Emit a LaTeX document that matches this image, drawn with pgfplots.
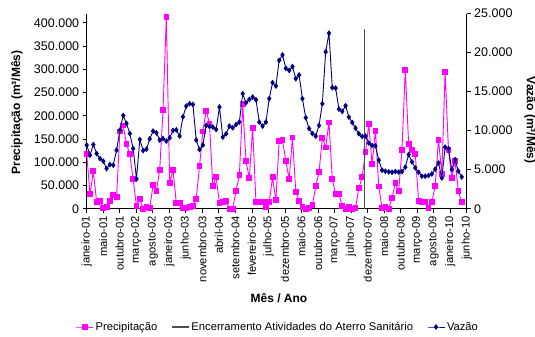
\documentclass[border=0pt]{standalone}
\usepackage{pgfplots}
\pgfplotsset{compat=1.18}
\usepackage{fontspec}
\setmainfont{Liberation Sans}
\definecolor{pinkc}{RGB}{255,0,255}
\definecolor{navyc}{RGB}{0,0,128}
\definecolor{linec}{RGB}{80,80,80}
\newcommand{\tickfont}{\fontsize{12.5bp}{14bp}\selectfont}
\newcommand{\xtfont}{\fontsize{11.2bp}{12bp}\selectfont}
\newcommand{\labfont}{\fontsize{12bp}{13bp}\selectfont\bfseries}
\begin{document}
\begin{tikzpicture}[x=1bp,y=1bp]
\path[use as bounding box] (-86.7,-127.3) rectangle (448.3,208.7);
\begin{axis}[
 at={(0,0)}, anchor=south west,
 scale only axis, width=380bp, height=195.2bp,
 xmin=0, xmax=114.5, ymin=0, ymax=420000,
 axis x line*=bottom, axis y line*=left,
 axis line style={black, line width=0.8bp},
 tick style={black, line width=0.8bp},
 tick align=outside, major tick length=4bp,
 xtick={0,4.978,9.957,14.935,19.913,24.891,29.870,34.848,39.826,44.804,49.783,54.761,59.739,64.717,69.696,74.674,79.652,84.630,89.609,94.587,99.565,104.543,109.522,114.5},
 xticklabels={janeiro-01,maio-01,outubro-01,março-02,agosto-02,janeiro-03,junho-03,novembro-03,abril-04,setembro-04,fevereiro-05,julho-05,dezembro-05,maio-06,outubro-06,março-07,julho-07,dezembro-07,maio-08,outubro-08,março-09,agosto-09,janeiro-10,junho-10},
 xticklabel style={rotate=90, anchor=east, font=\xtfont},
 ytick={0,50000,100000,150000,200000,250000,300000,350000,400000},
 scaled y ticks=false,
 yticklabel style={font=\tickfont, /pgf/number format/.cd, fixed, precision=0, 1000 sep={.}, assume math mode=true},
 ylabel={Precipitação (m³/Mês)},
 ylabel style={at={(axis description cs:-0.1834,0.493)}, anchor=center, font=\labfont},
 xlabel={Mês / Ano},
 xlabel style={at={(axis description cs:0.506,-0.4575)}, anchor=center, font=\labfont},
 clip=false,
]
\addplot[pinkc, line width=0.9bp, mark=square*, mark size=2.4bp, mark options={solid, fill=pinkc, draw=pinkc}] coordinates {
(0,118300)(1,31600)(2,80400)(3,14400)(4,17200)(5,1500)(6,3700)(7,15900)(8,28800)(9,24500)
(10,166400)(11,179300)(12,139100)(13,117600)(14,63200)(15,5800)(16,21500)(17,0)(18,3000)(19,2000)
(20,50300)(21,37400)(22,83900)(23,212300)(24,413000)(25,55300)(26,83200)(27,12300)(28,12300)(29,1500)
(30,800)(31,3000)(32,6500)(33,21500)(34,91200)(35,166400)(36,210800)(37,183000)(38,48200)(39,67500)
(40,12300)(41,14400)(42,17200)(43,0)(44,0)(45,38700)(46,71800)(47,225000)(48,101900)(49,66000)
(50,173500)(51,14400)(52,13700)(53,14400)(54,3000)(55,15000)(56,67500)(57,18000)(58,146200)(59,147700)
(60,101900)(61,63900)(62,153500)(63,35900)(64,17200)(65,3000)(66,0)(67,1500)(68,7300)(69,48200)
(70,78300)(71,152000)(72,132000)(73,185800)(74,64000)(75,31600)(76,31600)(77,5200)(78,0)(79,3700)
(80,0)(81,1500)(82,44500)(83,67500)(84,122000)(85,182000)(86,96000)(87,168000)(88,48000)(89,1500)
(90,3000)(91,0)(92,23000)(93,55000)(94,37400)(95,127000)(96,299000)(97,139000)(98,127000)(99,117600)
(100,17200)(101,13700)(102,13700)(103,1500)(104,13700)(105,49500)(106,148400)(107,75300)(108,294000)(109,127000)
(110,66000)(111,102000)(112,37400)(113,13700)
};
\end{axis}
\begin{axis}[
 at={(0,0)}, anchor=south west,
 scale only axis, width=380bp, height=195.2bp,
 xmin=0, xmax=114.5, ymin=0, ymax=25000,
 axis x line=none, axis y line*=right,
 axis line style={black, line width=0.8bp},
 tick style={black, line width=0.8bp},
 tick align=outside, major tick length=4bp,
 ytick={0,5000,10000,15000,20000,25000},
 scaled y ticks=false,
 yticklabel style={font=\tickfont, /pgf/number format/.cd, fixed, precision=0, 1000 sep={.}, assume math mode=true},
 ylabel={Vazão (m³/Mês)},
 ylabel style={at={(axis description cs:1.1666,0.454)}, anchor=center, rotate=180, font=\labfont},
 clip=false,
 legend style={at={(axis description cs:0.503,-0.606)}, anchor=center, draw=none, fill=none, font=\xtfont, legend columns=-1, /tikz/every even column/.append style={column sep=12bp}},
]
\addlegendimage{pinkc, line width=0.9bp, mark=square*, mark size=2.4bp, mark options={solid, fill=pinkc, draw=pinkc}}
\addlegendentry{Precipitação}
\addlegendimage{linec, line width=1.2bp}
\addlegendentry{Encerramento Atividades do Aterro Sanitário}
\addplot[linec, line width=1.2bp, forget plot] coordinates {(83.8,0) (83.8,23070)};
\addplot[navyc, line width=0.9bp, mark=diamond*, mark size=2.2bp, mark options={solid, fill=navyc, draw=navyc}] coordinates {
(0,8140)(1,6856)(2,8218)(3,7062)(4,6420)(5,6086)(6,5136)(7,5650)(8,5572)(9,7499)
(10,10067)(11,11941)(12,10914)(13,9630)(14,7704)(15,3813)(16,8860)(17,7447)(18,7627)(19,8950)
(20,9938)(21,9720)(22,8780)(23,8990)(24,8654)(25,9078)(26,10015)(27,10105)(28,9296)(29,11774)
(30,13148)(31,13443)(32,13354)(33,8780)(34,7576)(35,8140)(36,10657)(37,10530)(38,10452)(39,10144)
(40,13020)(41,9168)(42,9591)(43,10580)(44,10362)(45,10786)(46,11094)(47,14727)(48,13572)(49,13995)
(50,14300)(51,13957)(52,11094)(53,10580)(54,11094)(55,14100)(56,16140)(57,15711)(58,19003)(59,19696)
(60,17976)(61,17719)(62,18194)(63,16654)(64,17128)(65,14085)(66,11646)(67,10272)(68,9630)(69,9296)
(70,10657)(71,13443)(72,20082)(73,22470)(74,15500)(75,15450)(76,12760)(77,12460)(78,13190)(79,11730)
(80,11045)(81,10320)(82,9600)(83,9250)(84,9300)(85,8400)(86,8100)(87,8050)(88,6220)(89,4930)
(90,4800)(91,4720)(92,4670)(93,4760)(94,4700)(95,4750)(96,5320)(97,6930)(98,6000)(99,5230)
(100,4670)(101,4160)(102,4160)(103,4250)(104,4450)(105,5060)(106,5870)(107,3940)(108,7880)(109,7700)
(110,5010)(111,6290)(112,4800)(113,4070)
};
\addlegendentry{Vazão}
\end{axis}
\end{tikzpicture}
\end{document}
